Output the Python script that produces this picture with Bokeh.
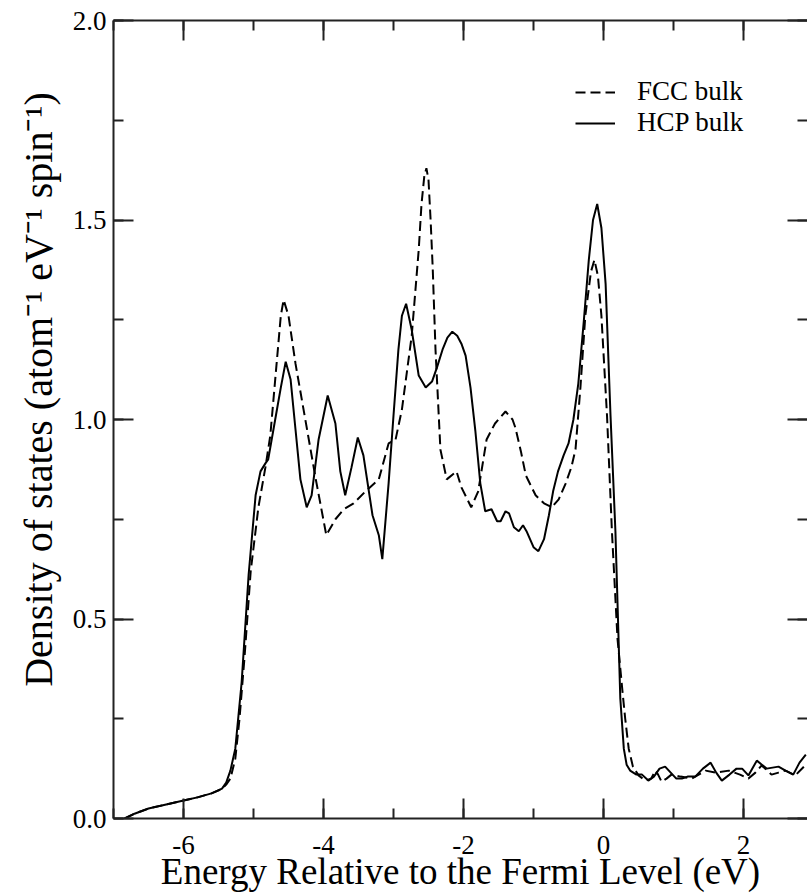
from bokeh.plotting import figure
from bokeh.models import (LinearAxis, SingleIntervalTicker, PrintfTickFormatter,
                          CustomJSTickFormatter, Range1d, Legend, LegendItem)
from bokeh.embed import file_html
from bokeh.resources import INLINE

# ---- data ----
hcp_energy = [-6.84, -6.7, -6.5, -6.2, -6.0, -5.8, -5.6, -5.45, -5.39, -5.33, -5.26, -5.17,
              -5.07, -4.97, -4.9, -4.83, -4.79, -4.69, -4.61, -4.54, -4.47, -4.4, -4.33,
              -4.24, -4.17, -4.07, -3.94, -3.83, -3.76, -3.69, -3.6, -3.51, -3.43, -3.3,
              -3.21, -3.16, -3.07, -3.0, -2.93, -2.88, -2.82, -2.74, -2.64, -2.54, -2.45,
              -2.38, -2.3, -2.23, -2.16, -2.09, -2.03, -1.97, -1.9, -1.83, -1.76, -1.69,
              -1.6, -1.52, -1.47, -1.4, -1.35, -1.28,
              -1.21, -1.15, -1.1, -1.0, -0.93, -0.85, -0.78, -0.72, -0.65, -0.57, -0.5,
              -0.43, -0.36, -0.28, -0.21, -0.15, -0.09, -0.03, 0.03, 0.1, 0.17, 0.24, 0.29,
              0.33, 0.38, 0.47, 0.55, 0.64, 0.72, 0.8, 0.88, 0.96, 1.04, 1.12, 1.2, 1.31,
              1.42, 1.53, 1.61, 1.69, 1.8, 1.9, 1.98, 2.07, 2.19, 2.33, 2.5, 2.6, 2.71, 2.8,
              2.89]
hcp_dos = [0.0, 0.012, 0.025, 0.037, 0.045, 0.053, 0.063, 0.075, 0.09, 0.12, 0.175, 0.34,
           0.61, 0.81, 0.87, 0.89, 0.9, 1.0, 1.08, 1.145, 1.1, 0.975, 0.85,
           0.78, 0.81, 0.95, 1.06, 0.99, 0.87, 0.81, 0.88, 0.955, 0.91, 0.76,
           0.71, 0.65, 0.84, 1.01, 1.175, 1.26, 1.29, 1.225, 1.11, 1.08, 1.095,
           1.13, 1.175, 1.205, 1.22, 1.21, 1.19, 1.16, 1.08, 0.97, 0.84, 0.77,
           0.775, 0.745, 0.745, 0.77, 0.765, 0.73,
           0.72, 0.735, 0.72, 0.68, 0.67, 0.7, 0.76, 0.82, 0.87, 0.91, 0.94,
           1.0, 1.09, 1.25, 1.4, 1.5, 1.54, 1.48, 1.34, 1.01, 0.72, 0.30, 0.175,
           0.135, 0.12, 0.11, 0.11, 0.095, 0.105, 0.125, 0.13, 0.115, 0.1, 0.1, 0.105, 0.105,
           0.125, 0.14, 0.115, 0.095, 0.11, 0.125, 0.125, 0.108, 0.145, 0.125, 0.13, 0.12, 0.11, 0.14,
           0.16]

fcc_energy = [-6.84, -6.7, -6.5, -6.2, -6.0, -5.8, -5.6, -5.45, -5.39, -5.33, -5.26, -5.2,
              -5.13, -5.04, -4.93, -4.83, -4.76, -4.67, -4.61, -4.57, -4.5, -4.4, -4.26, -4.11,
              -3.96, -3.83, -3.71, -3.57, -3.4, -3.21, -3.07, -2.97, -2.88, -2.74, -2.64,
              -2.6, -2.56, -2.53, -2.5, -2.47, -2.44, -2.4, -2.33, -2.24, -2.1, -2.03, -1.89,
              -1.79, -1.67, -1.55, -1.4, -1.3, -1.26, -1.18, -1.11, -0.97, -0.85, -0.74, -0.64,
              -0.54, -0.46, -0.4, -0.33, -0.26, -0.18, -0.13, -0.08, -0.03, 0.05, 0.12,
              0.2, 0.27, 0.31, 0.36, 0.42, 0.5, 0.6, 0.68, 0.74, 0.78, 0.83, 0.9, 0.97,
              1.1, 1.26, 1.36, 1.46, 1.6, 1.79, 1.95, 2.07, 2.17, 2.26, 2.4, 2.5, 2.6,
              2.74, 2.88]
fcc_dos = [0.0, 0.012, 0.025, 0.037, 0.045, 0.053, 0.063, 0.074, 0.085, 0.1, 0.15, 0.25,
           0.4, 0.62, 0.78, 0.88, 0.96, 1.14, 1.26, 1.30, 1.26, 1.14, 1.0, 0.85,
           0.71, 0.75, 0.775, 0.79, 0.82, 0.85, 0.94, 0.95, 1.025, 1.21, 1.425,
           1.54, 1.61, 1.63, 1.60, 1.5, 1.38, 1.175, 0.925, 0.85, 0.87, 0.83, 0.78,
           0.82, 0.95, 0.99, 1.02, 1.0, 0.98, 0.92, 0.86, 0.81, 0.79, 0.78, 0.8,
           0.84, 0.88, 0.925, 1.08, 1.26, 1.37, 1.40, 1.36, 1.26, 1.01, 0.72,
           0.45, 0.32, 0.25, 0.175, 0.13, 0.108, 0.095, 0.1, 0.12, 0.11, 0.092, 0.1, 0.11,
           0.105, 0.1, 0.11, 0.12, 0.115, 0.12, 0.11, 0.1, 0.115, 0.133, 0.11, 0.115, 0.12,
           0.108, 0.133]

x_major = 2
y_major = 0.5
series_labels = ["FCC bulk", "HCP bulk"]
x_label = "Energy Relative to the Fermi Level (eV)"
y_label = "\u00a0" * 6 + "Density of states (atom\u207b\u00b9 eV\u207b\u00b9 spin\u207b\u00b9)"

FONT = "Liberation Serif"
AX = "#222222"

p = figure(width=807, height=894, x_range=Range1d(-7, 2.914), y_range=Range1d(0, 2.0),
           output_backend="svg", toolbar_location=None,
           min_border_left=113, min_border_top=20, min_border_right=0, min_border_bottom=0)
p.outline_line_color = None
p.grid.visible = False
p.background_fill_color = "white"
p.border_fill_color = "white"

xt = SingleIntervalTicker(interval=x_major, num_minor_ticks=2)
yt = SingleIntervalTicker(interval=y_major, num_minor_ticks=2)

def style(ax):
    ax.axis_line_color = AX
    ax.axis_line_width = 2
    ax.major_tick_line_color = AX
    ax.major_tick_line_width = 2
    ax.minor_tick_line_color = AX
    ax.minor_tick_line_width = 2
    ax.major_tick_in = 20
    ax.major_tick_out = 0
    ax.minor_tick_in = 10
    ax.minor_tick_out = 0
    ax.major_label_text_font = FONT
    ax.major_label_text_font_size = "27px"
    ax.major_label_text_color = "black"
    ax.axis_label_text_font = FONT
    ax.axis_label_text_font_style = "normal"
    ax.axis_label_text_color = "black"

def hide_labels(ax):
    ax.formatter = CustomJSTickFormatter(code="return ''")
    ax.major_label_standoff = 0

xb = p.xaxis[0]
xb.ticker = xt
style(xb)
xb.formatter = PrintfTickFormatter(format="%d")
xb.major_label_standoff = 17
xb.axis_label = x_label
xb.axis_label_text_font_size = "37px"
xb.axis_label_standoff = -6

yl = p.yaxis[0]
yl.ticker = yt
style(yl)
yl.formatter = PrintfTickFormatter(format="%.1f")
yl.major_label_standoff = 7
yl.axis_label = y_label
yl.axis_label_text_font_size = "40px"
yl.axis_label_standoff = 9

xtop = LinearAxis(ticker=xt)
style(xtop)
hide_labels(xtop)
p.add_layout(xtop, "above")

yr = LinearAxis(ticker=yt)
style(yr)
hide_labels(yr)
yr.axis_line_color = None
p.add_layout(yr, "right")

r_fcc = p.line(fcc_energy, fcc_dos, line_color="black", line_width=2, line_dash="10 5")
r_hcp = p.line(hcp_energy, hcp_dos, line_color="black", line_width=2)

legend = Legend(items=[LegendItem(label=series_labels[0], renderers=[r_fcc]),
                       LegendItem(label=series_labels[1], renderers=[r_hcp])],
                location=(462, 680))
legend.border_line_color = None
legend.background_fill_alpha = 0
legend.padding = 0
legend.margin = 0
legend.spacing = 0
legend.glyph_width = 40
legend.glyph_height = 28
legend.label_height = 28
legend.label_standoff = 22
legend.label_text_font = FONT
legend.label_text_font_size = "27px"
legend.label_text_color = "black"
p.add_layout(legend)

open("out.html", "w").write(file_html(p, INLINE))
